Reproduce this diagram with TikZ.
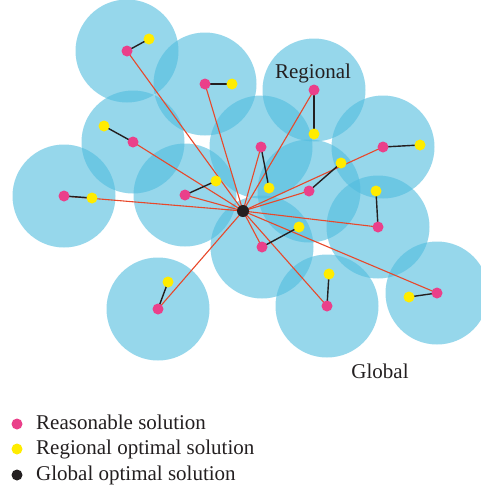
\documentclass[tikz,border=0pt]{standalone}
\usepackage{fontspec}
\setmainfont{Liberation Serif}
\definecolor{regionblue}{RGB}{80,188,222}
\definecolor{linkred}{RGB}{232,72,42}
\definecolor{solpink}{RGB}{234,64,138}
\definecolor{solyellow}{RGB}{255,236,0}
\definecolor{inkdark}{RGB}{35,31,32}
\pgfdeclarelayer{regions}
\pgfdeclarelayer{links}
\pgfsetlayers{regions,links,main}
\tikzset{
  region/.style={fill=regionblue, fill opacity=0.6},
  reasonable/.style={circle, fill=solpink, inner sep=0pt, minimum size=11pt},
  regopt/.style={circle, fill=solyellow, inner sep=0pt, minimum size=11pt},
  globopt/.style={circle, fill=inkdark, inner sep=0pt, minimum size=12pt},
  tolocal/.style={draw=inkdark, line width=1.4pt},
  toglobal/.style={draw=linkred, line width=1.1pt},
  label/.style={text=inkdark, font=\fontsize{21}{25}\selectfont, inner sep=0pt},
}
\begin{document}
\begin{tikzpicture}[x=1pt,y=-1pt]
\useasboundingbox (0,0) rectangle (480,490);

% reasonable solutions (region centres) and their regional optima
\foreach \n/\px/\py/\qx/\qy in {
  1/127/51/149/39,
  2/205/84/232/84,
  3/133/142/104/126,
  4/64/196/92/198,
  5/185/195/216/181,
  6/314/90/314/134,
  7/383/147/420/145,
  8/261/147/269/188,
  9/309/191/341/163,
  10/262/247/299/227,
  11/378/227/376/191,
  12/327/306/329/274,
  13/437/293/409/297,
  14/158/309/168/282}{
  \node[reasonable] (p\n) at (\px,\py) {};
  \node[regopt] (q\n) at (\qx,\qy) {};
  \begin{pgfonlayer}{regions}
    \fill[region] (p\n) circle[radius=51.5pt];
  \end{pgfonlayer}
}

% global optimum
\node[globopt] (g) at (243,211) {};

\begin{pgfonlayer}{links}
  \foreach \n in {1,...,14}{
    \draw[toglobal] (g.center) -- (p\n.center);
  }
  \foreach \n in {1,...,14}{
    \draw[tolocal] (p\n.center) -- (q\n.center);
  }
\end{pgfonlayer}

% area labels
\node[label, anchor=base] (lregional) at (313,78) {Regional};
\node[label, anchor=base] (lglobal) at (380,378) {Global};

% legend
\node[reasonable] (k1) at (17,424) {};
\node[regopt] (k2) at (17,449) {};
\node[globopt, minimum size=11pt] (k3) at (17,475) {};
\node[label, anchor=base west] (t1) at (36,429.5) {Reasonable solution};
\node[label, anchor=base west] (t2) at (36,454.5) {Regional optimal solution};
\node[label, anchor=base west] (t3) at (36,480) {Global optimal solution};
\end{tikzpicture}
\end{document}
